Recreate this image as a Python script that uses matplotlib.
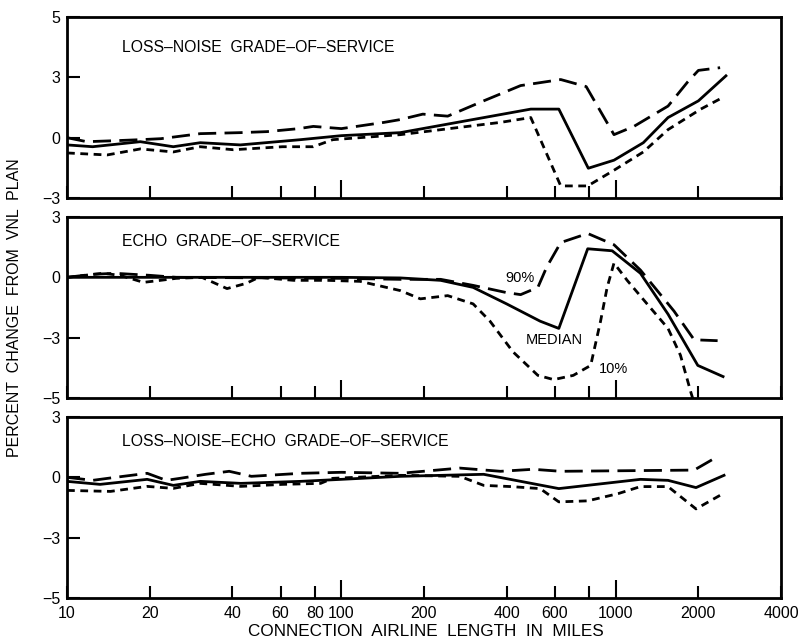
import numpy as np
import matplotlib
matplotlib.use("Agg")
import matplotlib.pyplot as plt

plt.rcParams['font.family'] = ['Liberation Sans', 'DejaVu Sans']

# ---------------- data ----------------
# Panel 1: loss-noise grade-of-service
ln_med_x = [10, 12.4, 18.5, 24.4, 30.6, 42.8, 70.9, 100, 164, 490, 620, 794, 985, 1260, 1550, 2000, 2520]
ln_med_y = [-0.36, -0.45, -0.2, -0.45, -0.25, -0.36, -0.1, 0.1, 0.25, 1.42, 1.42, -1.52, -1.12, -0.25, 1.0, 1.83, 3.05]
ln_p90_x = [10, 11.8, 15, 18.5, 22, 30.6, 42.8, 53.5, 70, 79, 100, 143, 164, 198, 244, 330, 450, 630, 780, 985, 1164, 1550, 1830, 2000, 2400]
ln_p90_y = [0.0, -0.2, -0.15, -0.1, -0.05, 0.2, 0.25, 0.3, 0.45, 0.56, 0.45, 0.76, 0.9, 1.17, 1.07, 1.83, 2.59, 2.89, 2.54, 0.15, 0.56, 1.57, 2.78, 3.23, 3.32]
ln_p10_x = [10, 14, 18.5, 24.4, 30.6, 40.4, 61, 79, 93, 164, 265, 380, 490, 630, 790, 985, 1260, 1550, 2040, 2400]
ln_p10_y = [-0.76, -0.86, -0.56, -0.71, -0.45, -0.6, -0.45, -0.45, -0.1, 0.15, 0.5, 0.76, 1.0, -2.4, -2.4, -1.62, -0.71, 0.4, 1.42, 1.93]

# Panel 2: echo grade-of-service
e_med_x = [10, 100, 164, 230, 302, 400, 530, 620, 790, 970, 1230, 1550, 1990, 2460]
e_med_y = [0.0, 0.0, -0.03, -0.15, -0.5, -1.32, -2.18, -2.54, 1.42, 1.32, 0.2, -1.83, -3.92, -4.29]
e_p90_x = [10, 12.4, 15, 20, 25, 100, 164, 230, 302, 400, 450, 520, 560, 630, 790, 985, 1230, 1630, 1930, 2350]
e_p90_y = [0.0, 0.15, 0.2, 0.1, 0.0, -0.05, -0.1, -0.1, -0.4, -0.76, -0.86, -0.5, 0.51, 1.73, 2.18, 1.62, 0.36, -1.68, -3.07, -3.1]
e_p10_x = [10, 13.5, 15.6, 19, 21.9, 25, 31, 38.3, 45, 50, 67, 89, 117, 164, 194, 244, 302, 348, 422, 520, 594, 700, 810, 880, 930, 985, 1100, 1300, 1550, 1720, 1880, 1950]
e_p10_y = [0.0, 0.2, 0.1, -0.25, -0.15, -0.05, 0.0, -0.56, -0.3, 0.0, -0.15, -0.15, -0.2, -0.66, -1.07, -0.91, -1.32, -2.18, -3.47, -4.25, -4.39, -4.25, -3.92, -2.18, -0.5, 0.71, -0.15, -1.32, -2.54, -3.58, -4.83, -5.3]

# Panel 3: loss-noise-echo grade-of-service
lne_med_x = [10, 13.2, 19.6, 24.4, 30.6, 43, 71, 100, 164, 330, 620, 1230, 1550, 1960, 2480]
lne_med_y = [-0.2, -0.35, -0.1, -0.4, -0.2, -0.3, -0.2, -0.1, 0.05, 0.15, -0.56, -0.1, -0.15, -0.51, 0.1]
lne_p90_x = [10, 12.4, 15, 19.6, 23, 25.8, 32, 39, 47, 71, 100, 164, 270, 380, 500, 630, 1930, 2300]
lne_p90_y = [0.0, -0.15, 0.0, 0.2, -0.15, -0.05, 0.15, 0.3, 0.05, 0.2, 0.25, 0.2, 0.46, 0.3, 0.4, 0.3, 0.36, 0.96]
lne_p10_x = [10, 14.4, 19.6, 24.4, 30.6, 43, 61, 84, 93, 164, 270, 330, 415, 530, 620, 790, 1020, 1230, 1550, 1960, 2460]
lne_p10_y = [-0.65, -0.7, -0.45, -0.55, -0.3, -0.45, -0.35, -0.3, -0.05, 0.1, 0.05, -0.4, -0.46, -0.56, -1.22, -1.17, -0.81, -0.46, -0.46, -1.57, -0.81]

panel_titles = ["LOSS\u2013NOISE  GRADE\u2013OF\u2013SERVICE",
                "ECHO  GRADE\u2013OF\u2013SERVICE",
                "LOSS\u2013NOISE\u2013ECHO  GRADE\u2013OF\u2013SERVICE"]
curve_labels = ["90%", "MEDIAN", "10%"]
curve_label_x = [447, 598, 985]
curve_label_y = [-0.02, -3.07, -4.05]

x_tick_vals = [10, 20, 40, 60, 80, 200, 400, 600, 800, 2000, 4000]
x_tick_labels = ["10", "20", "40", "60", "80", "200", "400", "600", "", "2000", "4000"]
x_long_vals = [100, 1000]
x_long_labels = ["100", "1000"]

# ---------------- scale (axis is stretched beyond +/-3) ----------------
def fwd(y):
    y = np.asarray(y, dtype=float)
    return np.where(y > 3, 3 + 1.5 * (y - 3), np.where(y < -3, -3 + 1.5 * (y + 3), y))

def inv(z):
    z = np.asarray(z, dtype=float)
    return np.where(z > 3, 3 + (z - 3) / 1.5, np.where(z < -3, -3 + (z + 3) / 1.5, z))

fig = plt.figure(figsize=(7.98, 6.4), dpi=100)
left, width = 67 / 798, (781 - 67) / 798
tops = [17, 217, 417]
h = 181
axes = [fig.add_axes([left, 1 - (t + h) / 640, width, h / 640]) for t in tops]

panels = [
    ((ln_med_x, ln_med_y), (ln_p90_x, ln_p90_y), (ln_p10_x, ln_p10_y), (-3, 5), [-3, 0, 3, 5]),
    ((e_med_x, e_med_y), (e_p90_x, e_p90_y), (e_p10_x, e_p10_y), (-5, 3), [-5, -3, 0, 3]),
    ((lne_med_x, lne_med_y), (lne_p90_x, lne_p90_y), (lne_p10_x, lne_p10_y), (-5, 3), [-5, -3, 0, 3]),
]

lw = 2.0
for i, (ax, (med, p90, p10, ylim, yt)) in enumerate(zip(axes, panels)):
    ax.set_xscale('log')
    ax.set_yscale('function', functions=(fwd, inv))
    ax.plot(med[0], med[1], color='black', lw=lw, ls='-')
    ax.plot(p90[0], p90[1], color='black', lw=lw, ls=(0, (6.5, 3.0)))
    ax.plot(p10[0], p10[1], color='black', lw=lw, ls=(0, (2.8, 2.0)))
    ax.set_xlim(10, 4000)
    ax.set_ylim(*ylim)
    ax.set_yticks(yt)
    ax.set_yticklabels([str(v).replace('-', '\u2212') for v in yt])
    ax.set_xticks(x_long_vals)
    ax.set_xticks(x_tick_vals, minor=True)
    if i == 2:
        ax.set_xticklabels(x_long_labels)
        ax.set_xticklabels(x_tick_labels, minor=True)
    else:
        ax.set_xticklabels([])
        ax.set_xticklabels([], minor=True)
    ax.tick_params(axis='x', which='major', direction='in', length=13, width=1.5, pad=6, labelsize=11.5)
    ax.tick_params(axis='x', which='minor', direction='in', length=8.6, width=1.5, pad=6, labelsize=11.5)
    ax.tick_params(axis='y', which='both', direction='in', length=9.5, width=1.5, pad=5, labelsize=11.5)
    ax.yaxis.set_minor_locator(matplotlib.ticker.NullLocator())
    for s in ax.spines.values():
        s.set_linewidth(2.0)
    ty = [0.834, 0.867, 0.862][i]
    ax.text(0.077, ty, panel_titles[i], transform=ax.transAxes, fontsize=11.3,
            ha='left', va='center')

# annotations on echo panel
for lab, lx, ly in zip(curve_labels, curve_label_x, curve_label_y):
    axes[1].text(lx, ly, lab, fontsize=10.5, ha='center', va='center')

fig.text(15 / 798, 1 - 308 / 640, "PERCENT  CHANGE  FROM  VNL  PLAN", rotation=90,
         ha='center', va='center', fontsize=11.5)
fig.text(426 / 798, 1 - 632 / 640, "CONNECTION  AIRLINE  LENGTH  IN  MILES",
         ha='center', va='center', fontsize=12.3)

fig.savefig("out.png", dpi=100)
